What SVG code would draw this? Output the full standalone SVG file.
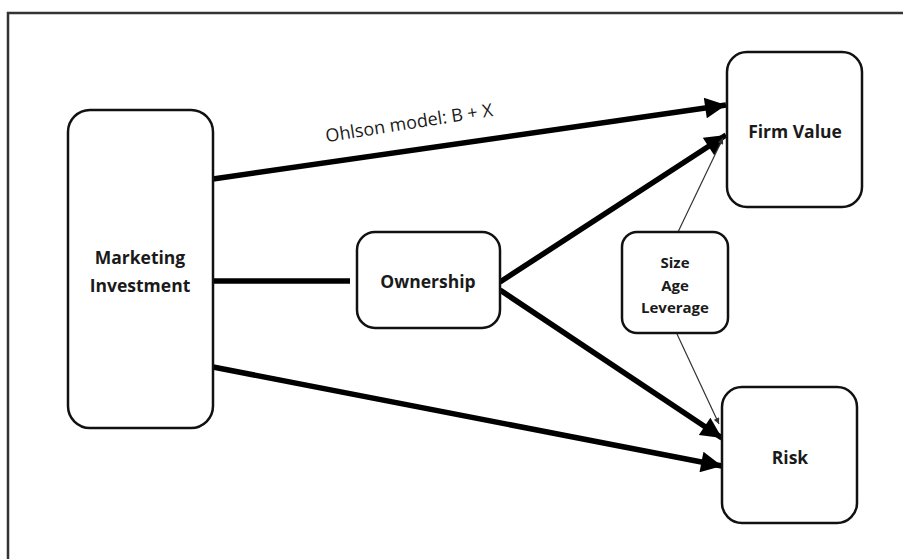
<svg xmlns="http://www.w3.org/2000/svg" width="903" height="559" viewBox="0 0 903 559">
<style>
.box{fill:#fff;stroke:#111;stroke-width:2.5}
.lbl{font-family:"Open Sans","Liberation Sans",sans-serif;font-weight:bold;font-size:17.5px;fill:#1a1a1a;text-anchor:middle}
.sm{font-size:15px}
.thick{stroke:#000;stroke-width:5.5;fill:none}
.thin{stroke:#333;stroke-width:1.2;fill:none}
</style>
<defs>
<marker id="ah" viewBox="0 0 10 10" refX="10" refY="5" markerWidth="4.2" markerHeight="3.8" orient="auto" markerUnits="strokeWidth">
<path d="M0,0 L10,5 L0,10 z" fill="#000"/>
</marker>
<marker id="ahs" viewBox="0 0 10 10" refX="10" refY="5" markerWidth="6" markerHeight="5" orient="auto" markerUnits="strokeWidth">
<path d="M0,0 L10,5 L0,10 z" fill="#333"/>
</marker>
</defs>
<rect width="903" height="559" fill="#fff"/>
<path d="M8,570 V13 H910" fill="none" stroke="#333" stroke-width="2.5"/>
<g id="connectors">
<line class="thick" x1="213" y1="179" x2="726" y2="105" marker-end="url(#ah)"/>
<line class="thick" x1="213" y1="281" x2="350" y2="281"/>
<line class="thick" x1="500" y1="282" x2="726" y2="135" marker-end="url(#ah)"/>
<line class="thick" x1="500" y1="290" x2="722" y2="438" marker-end="url(#ah)"/>
<line class="thick" x1="213" y1="367" x2="722" y2="466" marker-end="url(#ah)"/>
<line class="thin" x1="678" y1="232" x2="723" y2="138" marker-end="url(#ahs)"/>
<line class="thin" x1="677" y1="334" x2="719" y2="424" marker-end="url(#ahs)"/>
<text x="0" y="0" transform="translate(410,129) rotate(-9)" font-family="'Open Sans','Liberation Sans',sans-serif" font-size="18" fill="#1a1a1a" text-anchor="middle">Ohlson model: B + X</text>
</g>
<g id="marketing">
<rect class="box" x="68" y="110" width="145" height="318" rx="22"/>
<text class="lbl" x="140" y="264">Marketing</text>
<text class="lbl" x="140" y="292">Investment</text>
</g>
<g id="ownership">
<rect class="box" x="357" y="232" width="143" height="96" rx="18"/>
<text class="lbl" x="428" y="288">Ownership</text>
</g>
<g id="firmvalue">
<rect class="box" x="727" y="52" width="135" height="155" rx="20"/>
<text class="lbl" x="795" y="138">Firm Value</text>
</g>
<g id="risk">
<rect class="box" x="722" y="387" width="135" height="136" rx="20"/>
<text class="lbl" x="790" y="464">Risk</text>
</g>
<g id="controls">
<rect class="box" x="622" y="232" width="106" height="101" rx="15"/>
<text class="lbl sm" x="675" y="268">Size</text>
<text class="lbl sm" x="675" y="291">Age</text>
<text class="lbl sm" x="675" y="313">Leverage</text>
</g>
</svg>
